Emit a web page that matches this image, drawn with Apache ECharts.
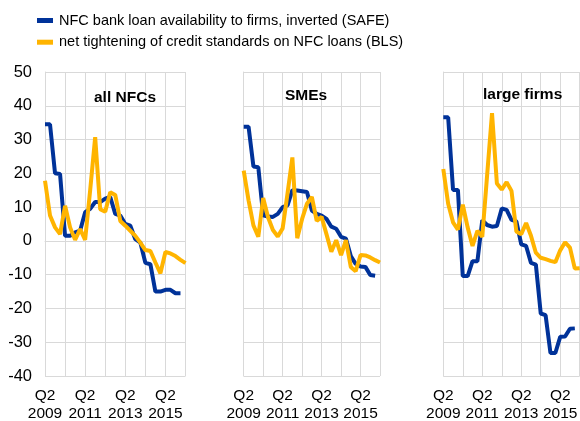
<!DOCTYPE html>
<html>
<head>
<meta charset="utf-8">
<script src="https://cdn.jsdelivr.net/npm/echarts@6/dist/echarts.min.js"></script>
<style>
  html, body { margin: 0; padding: 0; background: #fff; }
  #chart { width: 580px; height: 421px; }
</style>
</head>
<body>
<div id="chart"></div>
<script>
// quarters, Q2 2009 .. Q2 2016
const quarters = [
  'Q2 2009', 'Q3 2009', 'Q4 2009', 'Q1 2010', 'Q2 2010', 'Q3 2010', 'Q4 2010', 'Q1 2011',
  'Q2 2011', 'Q3 2011', 'Q4 2011', 'Q1 2012', 'Q2 2012', 'Q3 2012', 'Q4 2012', 'Q1 2013',
  'Q2 2013', 'Q3 2013', 'Q4 2013', 'Q1 2014', 'Q2 2014', 'Q3 2014', 'Q4 2014', 'Q1 2015',
  'Q2 2015', 'Q3 2015', 'Q4 2015', 'Q1 2016', 'Q2 2016'
]

const panelTitles = ['all NFCs', 'SMEs', 'large firms']
const seriesNames = [
  'NFC bank loan availability to firms, inverted (SAFE)',
  'net tightening of credit standards on NFC loans (BLS)'
]

// SAFE (blue)
const safeAll = [34.5, 34.5, 20, 19.8, 1.5, 1.5, 2.5, 3, 8.5, 9.5, 11.5, 11.5, 12.5, 13,
  8, 7.5, 5, 4.5, 0.5, -0.5, -6.5, -6.9, -15, -15, -14.5, -14.5, -15.5, -15.5]
const safeSme = [33.8, 33.8, 22, 21.8, 7.6, 7.2, 7.1, 8, 10, 10.5, 15, 14.9, 14.7, 14.5,
  9, 8, 7.5, 6.5, 4.2, 3.6, 1.2, 0.7, -4.5, -6.8, -7.6, -7.7, -10.1, -10.3]
const safeLarge = [36.6, 36.6, 15.1, 15.1, -10.4, -10.4, -6, -6, 6.1, 4.7, 4.2, 4.4, 9.6, 9.2,
  6.2, 5.8, -1, -1.5, -6.5, -7, -21.5, -22, -33.2, -33.2, -28.4, -28.3, -26, -25.9]

// BLS (yellow)
const blsAll = [17.8, 7.5, 4, 2, 10.4, 4, 0.3, 3.5, 0.3, 15, 30.7, 9.4, 8.6, 14.4,
  13.6, 5.9, 4.5, 3, 1.5, -0.5, -2.7, -3, -6.4, -9.6, -3.3, -3.7, -4.5, -5.6, -6.6]
const blsSme = [20.8, 12, 4.6, 1.2, 12.7, 7, 3.2, 1.3, 3.7, 14, 24.7, 0.8, 6.5, 11,
  13, 5.9, 7.1, 2, -3.2, 0.2, -4.2, 0.2, -7.7, -9, -4.2, -4.3, -4.9, -5.7, -6.4]
const blsLarge = [21.3, 11, 5.5, 3.3, 10.7, 4, -1.5, 3, 1.2, 19.5, 37.8, 17, 15.2, 17.4,
  14.8, 2.8, 2, 5.3, 1.5, -3.5, -5, -5.4, -5.9, -6.3, -2.8, -0.4, -2, -8.2, -8.1]

const blue = '#003299'
const yellow = '#ffb400'
const gridColor = '#d9d9d9'
const font = 'Liberation Sans, Arial, sans-serif'

const grids = [
  { left: 45, top: 72, width: 140.5, height: 304 },
  { left: 243.7, top: 72, width: 136.3, height: 304 },
  { left: 443.3, top: 72, width: 136.4, height: 304 }
]
const titlePos = [[94, 89], [285, 87], [483, 86]]

const chart = echarts.init(document.getElementById('chart'))

const option = {
  animation: false,
  backgroundColor: '#fff',
  legend: {
    orient: 'vertical',
    left: 37,
    top: 10.5,
    padding: 0,
    itemGap: 1.7,
    itemWidth: 16,
    itemHeight: 5,
    icon: 'rect',
    data: seriesNames,
    textStyle: { fontFamily: font, fontSize: 14.5, color: '#000', lineHeight: 20, padding: [0, 0, 0, 1] }
  },
  title: panelTitles.map((t, i) => ({
    text: t,
    left: titlePos[i][0],
    top: titlePos[i][1],
    padding: 0,
    textStyle: { fontFamily: font, fontSize: 15.5, fontWeight: 'bold', color: '#000', lineHeight: 18 }
  })),
  grid: grids.map(g => Object.assign({ containLabel: false, outerBoundsMode: 'none' }, g)),
  xAxis: grids.map((g, i) => ({
    type: 'category',
    gridIndex: i,
    data: quarters,
    boundaryGap: false,
    axisLine: { show: true, lineStyle: { color: gridColor, width: 1 } },
    axisTick: { show: false },
    splitLine: { show: true, interval: 3, lineStyle: { color: gridColor, width: 1 } },
    axisLabel: {
      interval: 7,
      margin: 10,
      fontFamily: font,
      fontSize: 15.5,
      lineHeight: 18.5,
      color: '#000',
      formatter: v => v.replace(' ', '\n')
    }
  })),
  yAxis: grids.map((g, i) => ({
    type: 'value',
    gridIndex: i,
    min: -40,
    max: 50,
    interval: 10,
    axisLine: { show: true, lineStyle: { color: gridColor, width: 1 } },
    axisTick: { show: false },
    splitLine: { show: true, lineStyle: { color: gridColor, width: 1 } },
    axisLabel: {
      show: i === 0,
      margin: 13,
      fontFamily: font,
      fontSize: 16.5,
      color: '#000'
    }
  })),
  series: []
}

const safeData = [safeAll, safeSme, safeLarge]
const blsData = [blsAll, blsSme, blsLarge]
for (let i = 0; i < 3; i++) {
  option.series.push({
    name: seriesNames[0],
    type: 'line',
    xAxisIndex: i,
    yAxisIndex: i,
    data: safeData[i],
    color: blue,
    showSymbol: false,
    lineStyle: { color: blue, width: 4 },
    z: 2
  })
  option.series.push({
    name: seriesNames[1],
    type: 'line',
    xAxisIndex: i,
    yAxisIndex: i,
    data: blsData[i],
    color: yellow,
    showSymbol: false,
    lineStyle: { color: yellow, width: 4 },
    z: 3
  })
}

chart.setOption(option)
</script>
</body>
</html>
